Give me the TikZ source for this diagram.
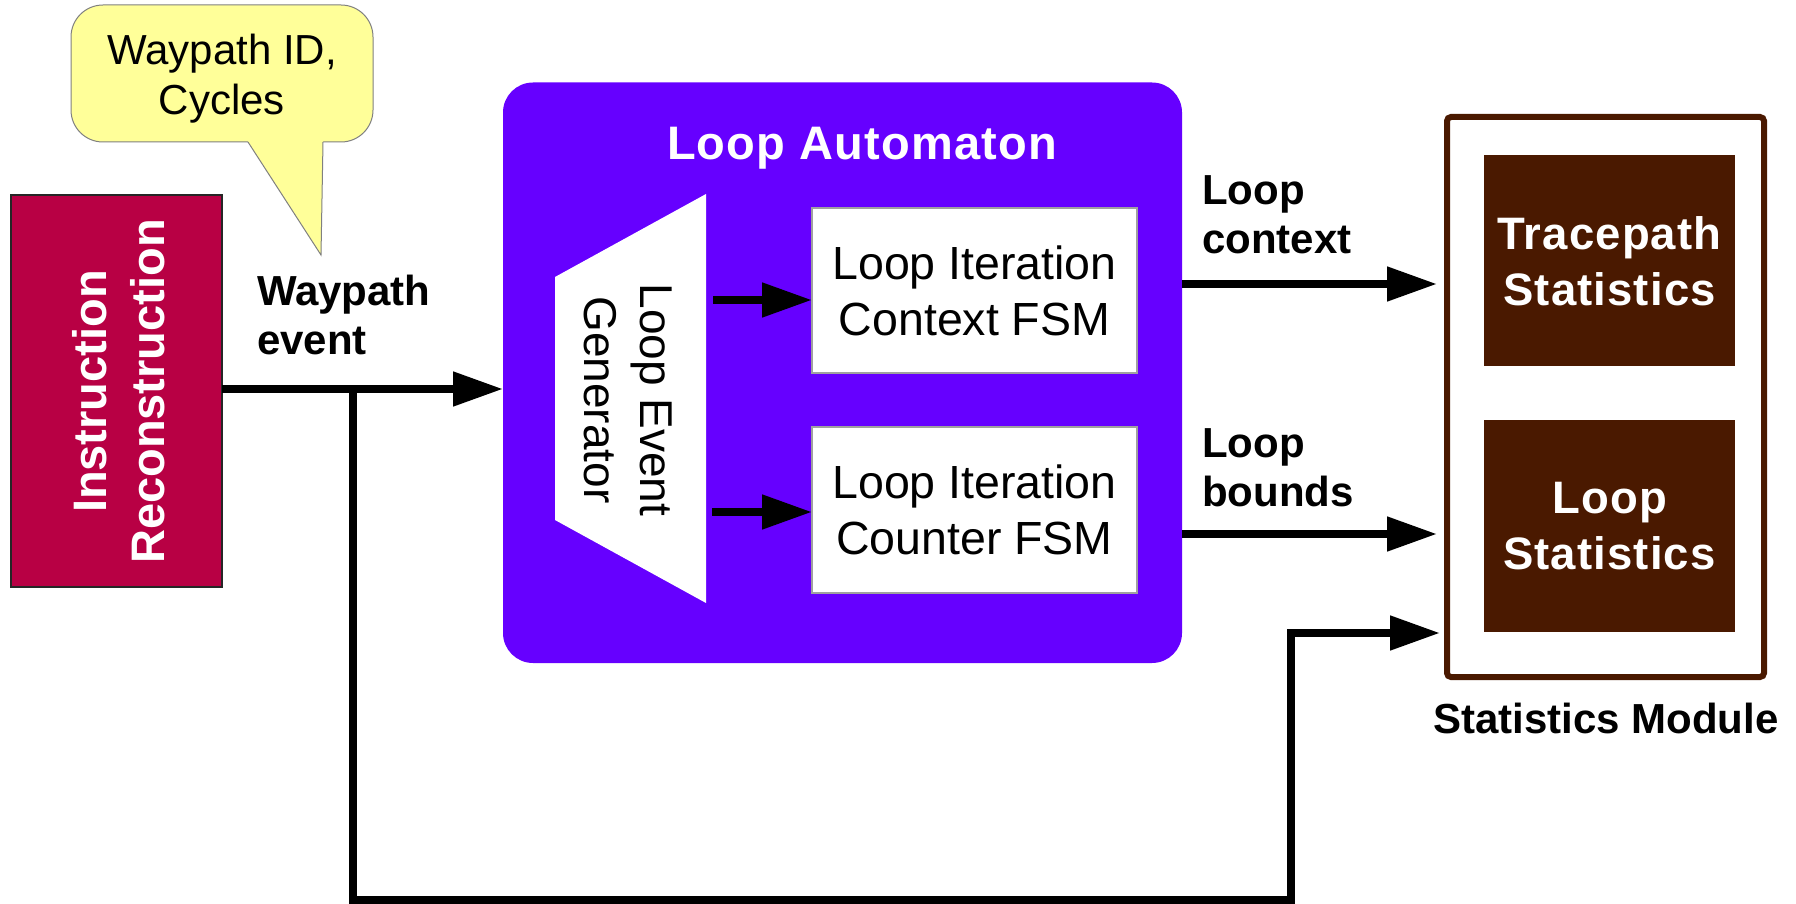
\documentclass[tikz,border=0pt]{standalone}
\usepackage{fontspec}
\setmainfont{Liberation Sans}
\newfontfamily\spacedsans{Liberation Sans}[LetterSpace=2.5]
\usetikzlibrary{arrows.meta,calc}

\definecolor{automaton}{RGB}{102,0,255}
\definecolor{recon}{RGB}{184,0,68}
\definecolor{statbrown}{RGB}{74,25,0}
\definecolor{noteyellow}{RGB}{255,255,153}
\definecolor{boxedge}{RGB}{160,160,160}

\begin{document}
\begin{tikzpicture}[x=1pt,y=-1pt,
  plain/.style={inner sep=0pt,outer sep=0pt},
  arr/.style={line width=8pt,-{Triangle[length=50pt,width=33pt]}},
  fsm/.style={plain,fill=white,draw=boxedge,line width=1.2pt,
    minimum width=325pt,minimum height=165pt,align=center,
    font=\fontsize{46.5}{56}\selectfont},
  stat/.style={plain,fill=statbrown,minimum width=251pt,minimum height=211pt,
    align=center,text=white,font=\fontsize{45.5}{56}\selectfont\spacedsans\bfseries},
  lbl/.style={plain,align=left,font=\fontsize{42}{49}\selectfont\bfseries},
]
% canvas
\useasboundingbox (0,0) rectangle (1796,904);
\fill[white] (0,0) rectangle (1796,904);

% speech bubble
\node[plain,fill=noteyellow,draw=gray,line width=1pt,rounded corners=32pt,
  minimum width=302pt,minimum height=137pt] (note) at (222,73.5) {};
\coordinate (tailL) at (248,142);
\coordinate (tailR) at (323,142);
\coordinate (tailTip) at (321,255);
\fill[noteyellow] (248,139) -- (323,139) -- (tailR) -- (tailTip) -- (tailL) -- cycle;
\draw[gray,line width=1pt] (tailL) -- (tailTip) -- (tailR);
\node[plain,align=center,font=\fontsize{42}{50}\selectfont] (notetext) at (222,79)
  {Waypath ID,\\Cycles};

% instruction reconstruction block
\node[plain,fill=recon,draw=black!85,line width=1.2pt,
  minimum width=211pt,minimum height=392pt] (ir) at (116.4,391) {};
\node[plain,rotate=90,align=center,text=white,
  font=\fontsize{47}{58}\selectfont\bfseries] (irtext) at (119,391.5)
  {Instruction\\Reconstruction};

% loop automaton
\node[plain,fill=automaton,rounded corners=30pt,
  minimum width=679pt,minimum height=580.5pt] (la) at (842.5,372.75) {};
\node[plain,anchor=base,text=white,
  font=\fontsize{47}{54}\selectfont\spacedsans\bfseries]
  (latitle) at (862,160) {Loop Automaton};

% event generator (trapezoid)
\coordinate (genTR) at (706,194);
\coordinate (genTL) at (555,277);
\coordinate (genBL) at (555,520);
\coordinate (genBR) at (706,603);
\fill[white] (genTR) -- (genTL) -- (genBL) -- (genBR) -- cycle;
\node[plain,rotate=-90,align=center,font=\fontsize{46}{56}\selectfont]
  (gentext) at (628.5,400) {Loop Event\\Generator};

% state machines
\node[fsm] (ctx) at (974.5,290.5) {Loop Iteration\\Context FSM};
\node[fsm,minimum height=166pt] (cnt) at (974.5,510) {Loop Iteration\\Counter FSM};

\coordinate (g1) at (713,300);
\coordinate (g2) at (712,512);
\draw[arr] (g1) -- (g1 -| ctx.west);
\draw[arr] (g2) -- (g2 -| cnt.west);

% statistics module
\node[plain,draw=statbrown,line width=6pt,rounded corners=4pt,
  minimum width=317pt,minimum height=560pt] (sm) at (1605.5,397) {};
\node[stat,minimum height=210.5pt] (tps) at (1609.5,260.75) {Tracepath\\Statistics};
\node[stat,minimum height=212pt] (lps) at (1609.5,526) {Loop\\Statistics};
\node[plain,anchor=base,font=\fontsize{42}{49}\selectfont\bfseries]
  (smlabel) at (1606,733) {Statistics Module};

% signal labels (anchored at the baseline of their last line)
\node[lbl,anchor=base west] (wplabel) at (257,354) {Waypath\\event};
\node[lbl,anchor=base west] (ctxlabel) at (1202,254) {Loop\\context};
\node[lbl,anchor=base west] (bndlabel) at (1202,506) {Loop\\bounds};

% connections
\coordinate (tap) at (353,389);
\coordinate (low) at (1291,900);
\coordinate (smIn) at (1440,633);
\coordinate (ctxIn) at (1437,284);
\coordinate (bndIn) at (1437,534);

\draw[arr] (ir.east |- tap) -- (la.west |- tap);
\draw[arr] (tap) |- (low) |- (smIn);
\draw[arr] (la.east |- ctxIn) -- (ctxIn);
\draw[arr] (la.east |- bndIn) -- (bndIn);
\end{tikzpicture}
\end{document}
